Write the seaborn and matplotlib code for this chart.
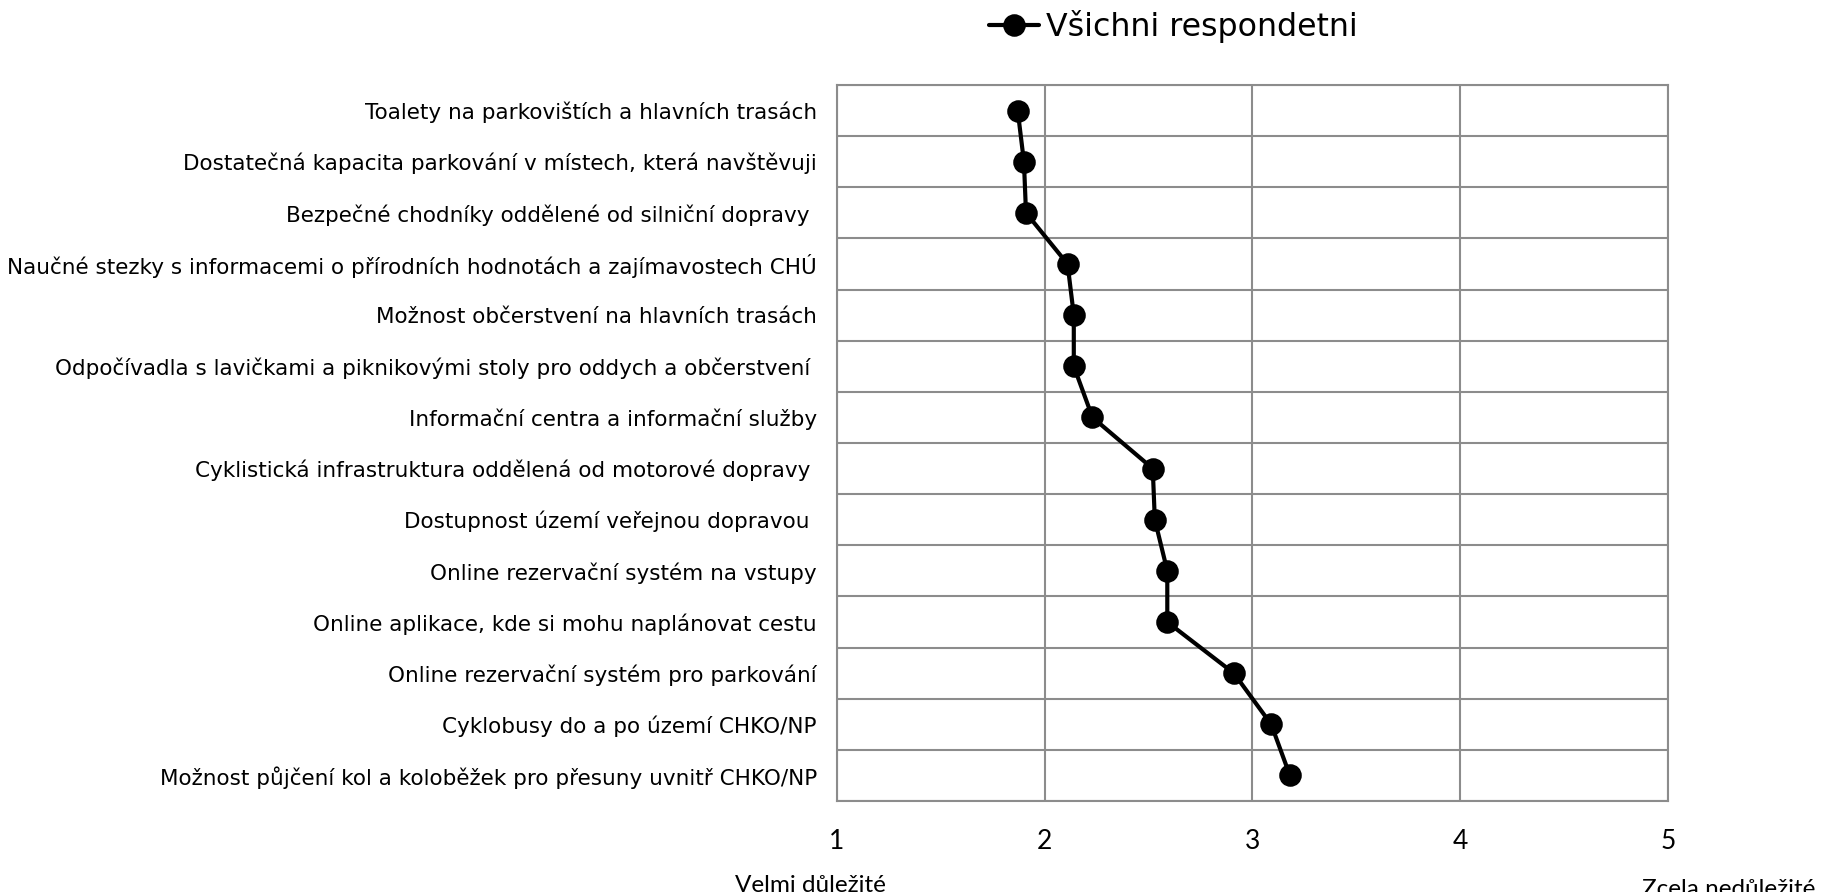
import numpy as np
import pandas as pd
import matplotlib
matplotlib.use("Agg")
import matplotlib.pyplot as plt
import seaborn as sns

# Data
ITEMS = [
    "Toalety na parkovištích a hlavních trasách",
    "Dostatečná kapacita parkování v místech, která navštěvuji",
    "Bezpečné chodníky oddělené od silniční dopravy ",
    "Naučné stezky s informacemi o přírodních hodnotách a zajímavostech CHÚ",
    "Možnost občerstvení na hlavních trasách",
    "Odpočívadla s lavičkami a piknikovými stoly pro oddych a občerstvení ",
    "Informační centra a informační služby",
    "Cyklistická infrastruktura oddělená od motorové dopravy ",
    "Dostupnost území veřejnou dopravou ",
    "Online rezervační systém na vstupy",
    "Online aplikace, kde si mohu naplánovat cestu",
    "Online rezervační systém pro parkování",
    "Cyklobusy do a po území CHKO/NP",
    "Možnost půjčení kol a koloběžek pro přesuny uvnitř CHKO/NP",
]
SCORES = [1.87, 1.90, 1.91, 2.11, 2.14, 2.14, 2.23, 2.52,
          2.53, 2.59, 2.59, 2.91, 3.09, 3.18]
SERIES = "Všichni respondetni"
X_TICKS = [1, 2, 3, 4, 5]

sns.set_theme(style="white")
plt.rcParams["font.family"] = ["DejaVu Sans"]
plt.rcParams["text.color"] = "black"
plt.rcParams["xtick.color"] = "black"
plt.rcParams["ytick.color"] = "black"

df = pd.DataFrame({"item": ITEMS, "score": SCORES, "series": SERIES})

fig = plt.figure(figsize=(18.21, 8.92), dpi=100)
ax = fig.add_axes([0.4596, 0.102, 0.916 - 0.4596, 0.9047 - 0.102])

sns.pointplot(
    data=df, x="score", y="item", hue="series", order=ITEMS,
    palette=["black"], orient="h", errorbar=None, ax=ax,
    markersize=14, linewidth=3,
)

# Grid: vertical at integer scores, horizontal between categories
grid_color = "#8c8c8c"
ax.set_xlim(1, 5)
ax.set_ylim(len(ITEMS) - 0.5, -0.5)
ax.set_xticks(X_TICKS)
ax.set_xticklabels([str(t) for t in X_TICKS], fontfamily="Lato", fontsize=19)
ax.set_yticks(np.arange(-0.5, len(ITEMS), 1), minor=True)
ax.grid(which="major", axis="x", color=grid_color, linewidth=1.5)
ax.grid(which="minor", axis="y", color=grid_color, linewidth=1.5)
ax.set_axisbelow(True)
for sp in ax.spines.values():
    sp.set_color(grid_color)
    sp.set_linewidth(1.5)
ax.tick_params(axis="both", which="both", length=0)
ax.tick_params(axis="y", pad=14.5, labelsize=15.5)
ax.tick_params(axis="x", pad=20)
ax.set_xlabel("")
ax.set_ylabel("")

# Legend on top
leg = ax.legend(
    loc="center", bbox_to_anchor=((1173 / 1821 - 0.4596) / (0.916 - 0.4596), 1.0815),
    frameon=False, fontsize=22.8, handlelength=1.6, handletextpad=0.2,
)

# Scale end captions
fig.text(810 / 1821, 1 - 885 / 892, "Velmi důležité", ha="center", va="center",
         fontfamily="Lato", fontsize=17.5)
fig.text(1642 / 1821, 1 - 889 / 892, "Zcela nedůležité", ha="left", va="center",
         fontfamily="Lato", fontsize=17.5)

fig.savefig("out.png", dpi=100)
